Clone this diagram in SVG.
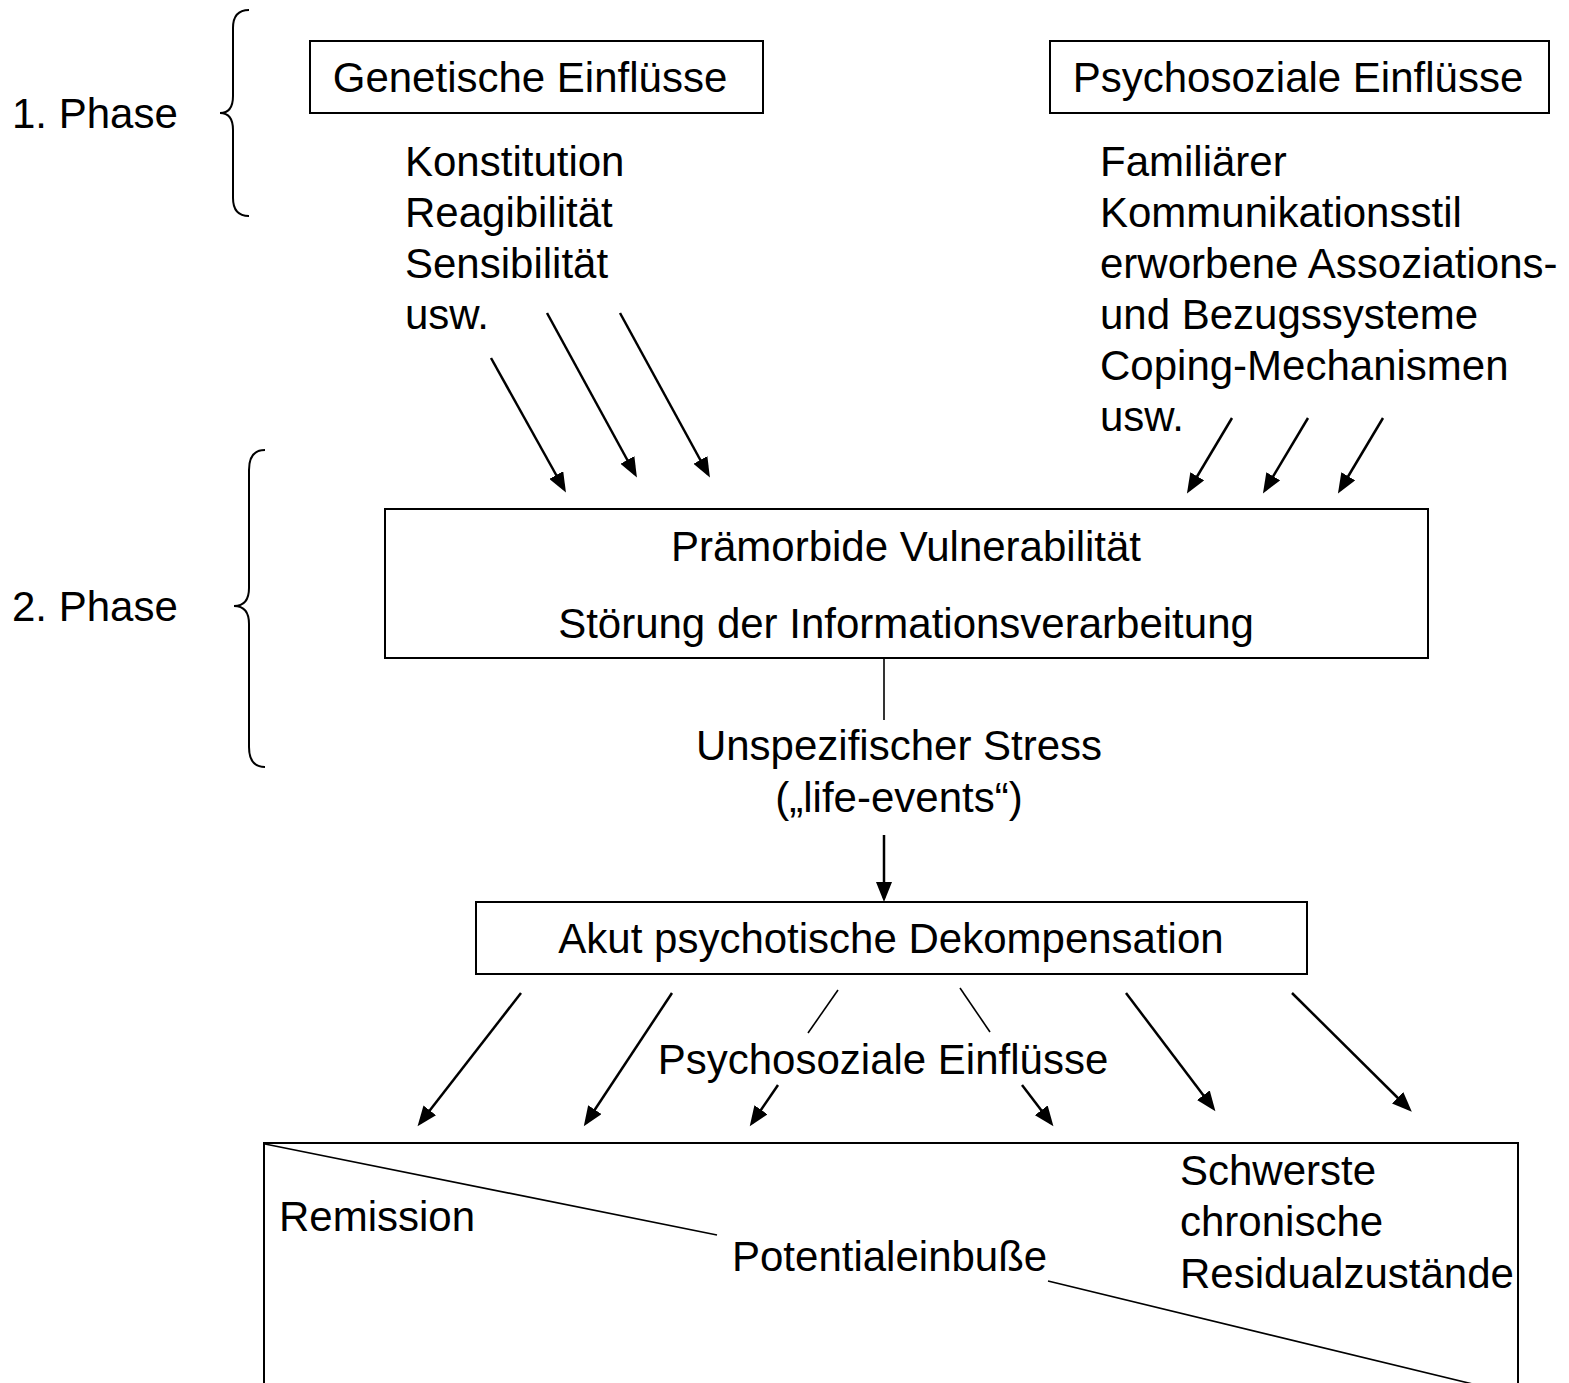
<svg xmlns="http://www.w3.org/2000/svg" width="1569" height="1383" viewBox="0 0 1569 1383">
<style>
text{font-family:"Liberation Sans",Arial,sans-serif;font-size:42px;fill:#000}
.box{fill:#fff;stroke:#000;stroke-width:2}
.arr{stroke:#000;stroke-width:2.5;fill:none;marker-end:url(#ah)}
.thin{stroke:#000;stroke-width:1.6;fill:none}
.brace{stroke:#000;stroke-width:2;fill:none}
.mid{text-anchor:middle}
</style>
<defs>
<marker id="ah" markerUnits="userSpaceOnUse" markerWidth="21" markerHeight="16" refX="16" refY="8" orient="auto">
<path d="M0,0 L20,8 L0,16 z" fill="#000"/>
</marker>
</defs>
<rect width="1569" height="1383" fill="#fff"/>

<g id="phase1">
<text x="12" y="128">1. Phase</text>
<path class="brace" d="M249,10 Q233,10 233,28 L233,96 Q233,113 220,113 Q233,113 233,130 L233,198 Q233,216 249,216"/>
</g>
<g id="phase2">
<text x="12" y="621">2. Phase</text>
<path class="brace" d="M265,450 Q249,450 249,470 L249,588 Q249,606 234,606 Q249,606 249,624 L249,747 Q249,767 265,767"/>
</g>

<g id="genetisch">
<rect class="box" x="310" y="41" width="453" height="72"/>
<text x="530" y="92" class="mid">Genetische Einflüsse</text>
</g>
<g id="genetisch-list">
<text x="405" y="176">Konstitution</text>
<text x="405" y="227">Reagibilität</text>
<text x="405" y="278">Sensibilität</text>
<text x="405" y="329">usw.</text>
</g>

<g id="psychosozial">
<rect class="box" x="1050" y="41" width="499" height="72"/>
<text x="1298" y="92" class="mid">Psychosoziale Einflüsse</text>
</g>
<g id="psychosozial-list">
<text x="1100" y="176">Familiärer</text>
<text x="1100" y="227">Kommunikationsstil</text>
<text x="1100" y="278">erworbene Assoziations-</text>
<text x="1100" y="329">und Bezugssysteme</text>
<text x="1100" y="380">Coping-Mechanismen</text>
<text x="1100" y="431">usw.</text>
</g>

<g id="vulnerabilitaet">
<rect class="box" x="385" y="509" width="1043" height="149"/>
<text x="906" y="561" class="mid">Prämorbide Vulnerabilität</text>
<text x="906" y="638" class="mid">Störung der Informationsverarbeitung</text>
</g>

<g id="stress">
<text x="899" y="760" class="mid">Unspezifischer Stress</text>
<text x="899" y="812" class="mid">(„life-events“)</text>
</g>

<g id="dekompensation">
<rect class="box" x="476" y="902" width="831" height="72"/>
<text x="891" y="953" class="mid">Akut psychotische Dekompensation</text>
</g>

<g id="psychosozial2">
<text x="883" y="1074" class="mid">Psychosoziale Einflüsse</text>
</g>

<g id="verlauf">
<path class="box" d="M264,1400 L264,1143 L1518,1143 L1518,1400"/>
<line class="thin" x1="265" y1="1144" x2="717" y2="1235"/>
<line class="thin" x1="1048" y1="1281" x2="1518" y2="1395"/>
<text x="279" y="1231">Remission</text>
<text x="732" y="1271">Potentialeinbuße</text>
<text x="1180" y="1185">Schwerste</text>
<text x="1180" y="1236">chronische</text>
<text x="1180" y="1288">Residualzustände</text>
</g>

<g id="connectors">
<line class="arr" x1="491" y1="358" x2="564" y2="489"/>
<line class="arr" x1="547" y1="313" x2="635" y2="474"/>
<line class="arr" x1="620" y1="313" x2="708" y2="474"/>
<line class="arr" x1="1232" y1="418" x2="1189" y2="490"/>
<line class="arr" x1="1308" y1="418" x2="1265" y2="490"/>
<line class="arr" x1="1383" y1="418" x2="1340" y2="490"/>
<line class="thin" x1="884" y1="658" x2="884" y2="720"/>
<line class="arr" x1="884" y1="835" x2="884" y2="898"/>
<line class="arr" x1="521" y1="993" x2="420" y2="1123"/>
<line class="arr" x1="672" y1="993" x2="586" y2="1123"/>
<line class="thin" x1="838" y1="990" x2="808" y2="1033"/>
<line class="arr" x1="778" y1="1085" x2="752" y2="1123"/>
<line class="thin" x1="960" y1="988" x2="990" y2="1032"/>
<line class="arr" x1="1022" y1="1085" x2="1051" y2="1123"/>
<line class="arr" x1="1126" y1="993" x2="1213" y2="1108"/>
<line class="arr" x1="1292" y1="993" x2="1409" y2="1109"/>
</g>
</svg>
